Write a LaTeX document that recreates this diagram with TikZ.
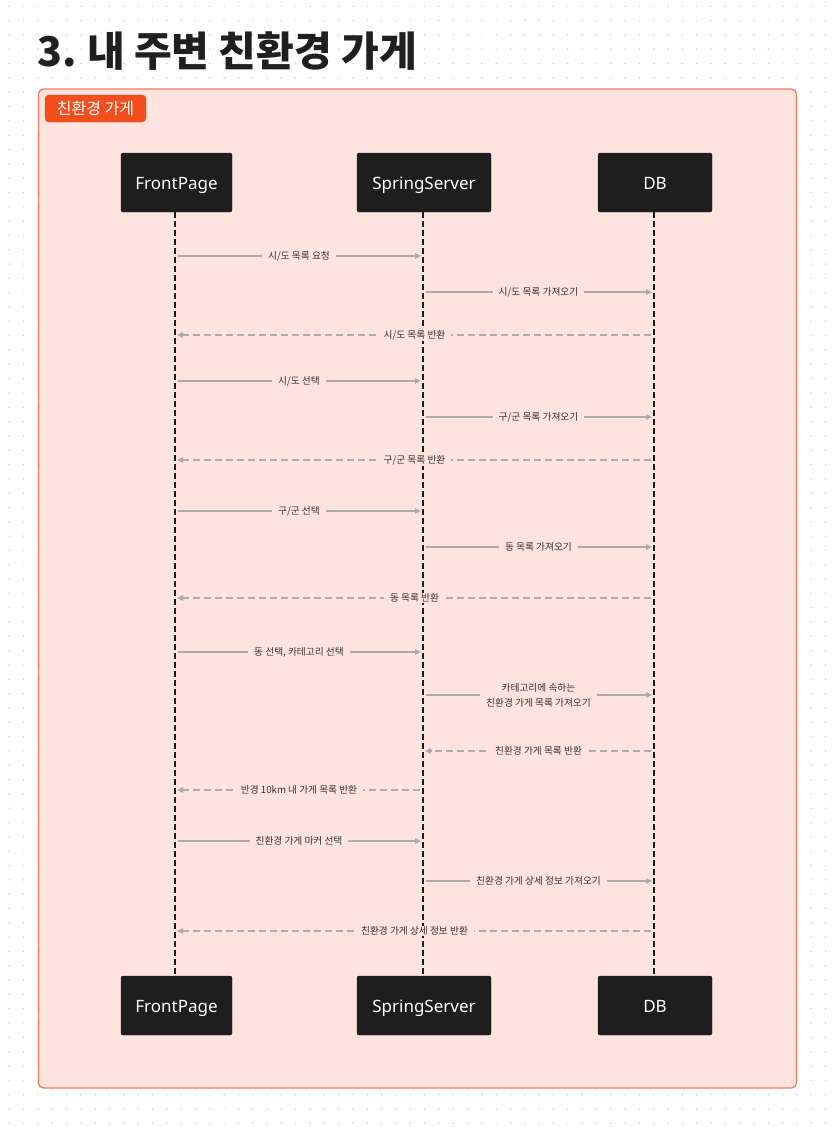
\documentclass[tikz,border=0pt]{standalone}
\usepackage{fontspec}
\setmainfont{Noto Sans CJK KR}
\newfontfamily\latinsans{Noto Sans}
\usetikzlibrary{arrows.meta}
\definecolor{framefill}{HTML}{FFE3DE}
\definecolor{frameline}{HTML}{F47B5E}
\definecolor{tagfill}{HTML}{F24E1E}
\definecolor{tagline}{HTML}{D9461A}
\definecolor{actorfill}{HTML}{1E1E1E}
\definecolor{msgline}{HTML}{ABABAB}
\definecolor{msgtext}{HTML}{333333}
\definecolor{griddot}{HTML}{D0D0D0}
\tikzset{
  actor/.style={draw=actorfill, fill=actorfill, rounded corners=2pt, minimum width=#1, minimum height=59pt, inner sep=0pt, text height=15pt, text depth=1pt, text=white, font=\latinsans\fontsize{17}{20}\selectfont},
  lifeline/.style={draw=black!90, line width=1.1pt, dash pattern=on 6pt off 3pt},
  msg/.style={draw=msgline, line width=1.1pt, -{Triangle[length=6pt,width=5.5pt]}, shorten <=3pt, shorten >=2pt},
  reply/.style={msg, dash pattern=on 7pt off 4pt},
  msglabel/.style={fill=framefill, text=msgtext, inner xsep=6pt, inner ysep=1pt, font=\fontsize{9.7}{15}\selectfont, align=center},
}
\begin{document}
\begin{tikzpicture}[x=1pt,y=-1pt]
\useasboundingbox (0,0) rectangle (837,1127);
\fill[white] (0,0) rectangle (837,1127);
% dot grid
\foreach \i in {0,...,58}{
  \foreach \j in {0,...,78}{
    \fill[griddot] ({9.3+\i*14.32},{6.3+\j*14.32}) circle (0.8);
  }
}
% title
\node[anchor=base west, inner sep=0pt, text=black!88, font=\bfseries\fontsize{41}{45}\selectfont] (title) at (37,66) {3.\kern-2pt{} 내 주변 친환경 가게};
% frame
\draw[frameline, fill=framefill, line width=1.3pt, rounded corners=5pt] (38.5,89) rectangle (796.5,1088);
\node[draw=tagline, fill=tagfill, rounded corners=4pt, text=white, minimum width=101pt, minimum height=27pt, inner sep=0pt, font=\fontsize{16}{18}\selectfont] (tag) at (95.5,108.5) {친환경 가게};
% actors
\node[actor=111pt] (fpT) at (176.5,182.5) {FrontPage};
\node[actor=134pt] (ssT) at (424,182.5) {SpringServer};
\node[actor=114pt] (dbT) at (655,182.5) {DB};
\node[actor=111pt] (fpB) at (176.5,1005.5) {FrontPage};
\node[actor=134pt] (ssB) at (424,1005.5) {SpringServer};
\node[actor=114pt] (dbB) at (655,1005.5) {DB};
% lifelines
\draw[lifeline] ([xshift=-1.5pt]fpT.south) -- ([xshift=-1.5pt]fpB.north);
\draw[lifeline] ([xshift=-1pt]ssT.south) -- ([xshift=-1pt]ssB.north);
\draw[lifeline] ([xshift=-1pt]dbT.south) -- ([xshift=-1pt]dbB.north);
% message levels
\foreach \n/\y in {1/256,2/292,3/335,4/381,5/417,6/460,7/511,8/547,9/598,10/652,11/695,12/751,13/790,14/841,15/881,16/931}{
  \coordinate (fp\n) at (175,\y);
  \coordinate (ss\n) at (423,\y);
  \coordinate (db\n) at (654,\y);
}
% messages
\draw[msg] (fp1) -- node[msglabel]{시/도 목록 요청} (ss1);
\draw[msg] (ss2) -- node[msglabel]{시/도 목록 가져오기} (db2);
\draw[reply] (db3) -- node[msglabel]{시/도 목록 반환} (fp3);
\draw[msg] (fp4) -- node[msglabel]{시/도 선택} (ss4);
\draw[msg] (ss5) -- node[msglabel]{구/군 목록 가져오기} (db5);
\draw[reply] (db6) -- node[msglabel]{구/군 목록 반환} (fp6);
\draw[msg] (fp7) -- node[msglabel]{구/군 선택} (ss7);
\draw[msg] (ss8) -- node[msglabel]{동 목록 가져오기} (db8);
\draw[reply] (db9) -- node[msglabel]{동 목록 반환} (fp9);
\draw[msg] (fp10) -- node[msglabel]{동 선택, 카테고리 선택} (ss10);
\draw[msg] (ss11) -- node[msglabel]{카테고리에 속하는\\친환경 가게 목록 가져오기} (db11);
\draw[reply] (db12) -- node[msglabel]{친환경 가게 목록 반환} (ss12);
\draw[reply] (ss13) -- node[msglabel]{반경 10km 내 가게 목록 반환} (fp13);
\draw[msg] (fp14) -- node[msglabel]{친환경 가게 마커 선택} (ss14);
\draw[msg] (ss15) -- node[msglabel]{친환경 가게 상세 정보 가져오기} (db15);
\draw[reply] (db16) -- node[msglabel]{친환경 가게 상세 정보 반환} (fp16);
\end{tikzpicture}
\end{document}
